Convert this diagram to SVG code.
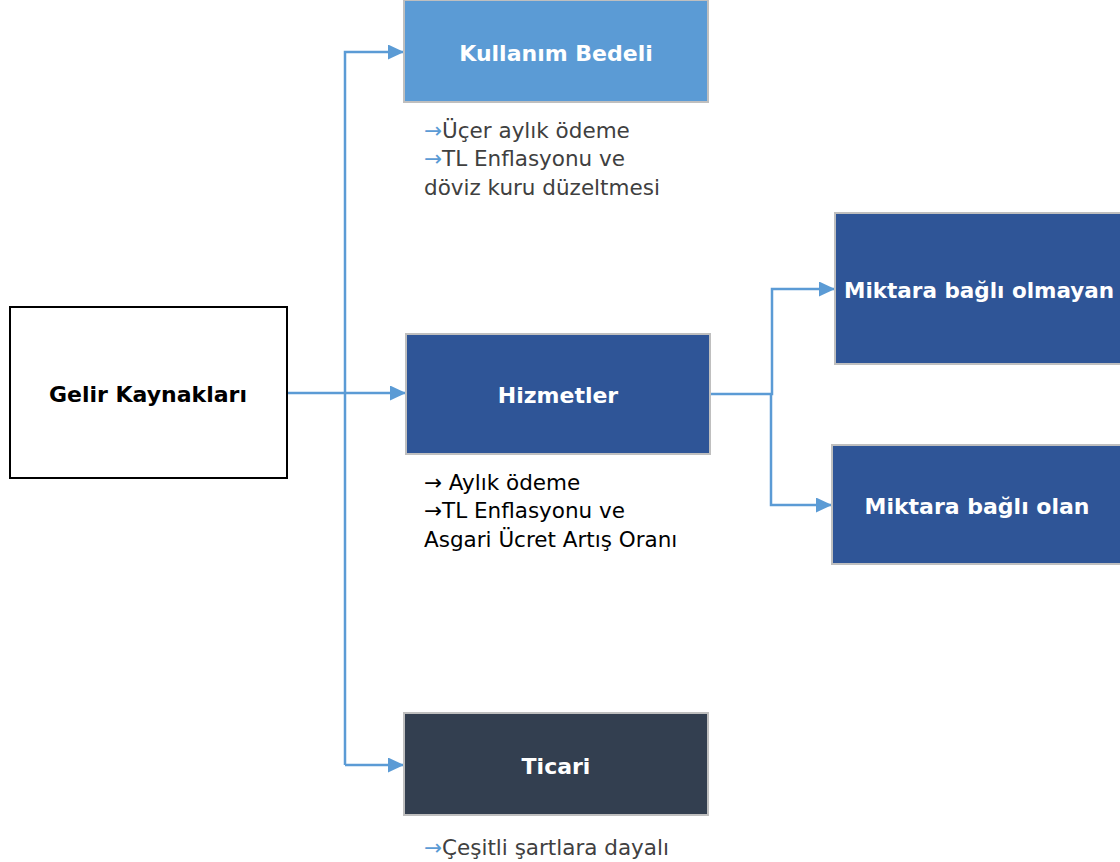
<svg xmlns="http://www.w3.org/2000/svg" width="1120" height="862" viewBox="0 0 1120 862">
<style>
.box{stroke:#BFBFBF;stroke-width:2}
.lbl{font-family:"DejaVu Sans","Liberation Sans",sans-serif;font-weight:bold;font-size:22px;fill:#FFFFFF;text-anchor:middle;dominant-baseline:central}
.note{font-family:"DejaVu Sans","Liberation Sans",sans-serif;font-size:21.5px}
.conn{fill:none;stroke:#5B9BD5;stroke-width:2.5}
</style>
<defs>
<marker id="ah" markerWidth="16" markerHeight="15" refX="15" refY="7.5" orient="auto" markerUnits="userSpaceOnUse">
<path d="M0,0 L16,7.5 L0,15 Z" fill="#5B9BD5"/>
</marker>
</defs>
<rect width="1120" height="862" fill="#FFFFFF"/>
<g id="connectors">
<path class="conn" d="M287,393 L405,393" marker-end="url(#ah)"/>
<path class="conn" d="M345,765 L345,52 L403,52" marker-end="url(#ah)"/>
<path class="conn" d="M345,765 L403,765" marker-end="url(#ah)"/>
<path class="conn" d="M710,394 L772,394 L772,289 L834,289" marker-end="url(#ah)"/>
<path class="conn" d="M771,394 L771,505 L831,505" marker-end="url(#ah)"/>
</g>
<g id="gelir">
<rect x="10" y="307" width="277" height="171" fill="#FFFFFF" stroke="#000000" stroke-width="2"/>
<text class="lbl" x="148" y="394" style="fill:#000000">Gelir Kaynakları</text>
</g>
<g id="kullanim">
<rect class="box" x="404" y="0" width="304" height="102" fill="#5B9BD5"/>
<text class="lbl" x="556" y="53">Kullanım Bedeli</text>
<text class="note" x="424" y="138" fill="#404040"><tspan fill="#5B9BD5">→</tspan>Üçer aylık ödeme</text>
<text class="note" x="424" y="166" fill="#404040"><tspan fill="#5B9BD5">→</tspan>TL Enflasyonu ve</text>
<text class="note" x="424" y="195" fill="#404040">döviz kuru düzeltmesi</text>
</g>
<g id="hizmetler">
<rect class="box" x="406" y="334" width="304" height="120" fill="#2F5597"/>
<text class="lbl" x="558" y="395">Hizmetler</text>
<text class="note" x="424" y="490" fill="#000000">→ Aylık ödeme</text>
<text class="note" x="424" y="518" fill="#000000">→TL Enflasyonu ve</text>
<text class="note" x="424" y="547" fill="#000000">Asgari Ücret Artış Oranı</text>
</g>
<g id="olmayan">
<rect class="box" x="835" y="213" width="300" height="151" fill="#2F5597"/>
<text class="lbl" x="844" y="290" style="text-anchor:start;font-size:21.5px">Miktara bağlı olmayan</text>
</g>
<g id="olan">
<rect class="box" x="832" y="445" width="300" height="119" fill="#2F5597"/>
<text class="lbl" x="977" y="506">Miktara bağlı olan</text>
</g>
<g id="ticari">
<rect class="box" x="404" y="713" width="304" height="102" fill="#333F50"/>
<text class="lbl" x="556" y="766">Ticari</text>
<text class="note" x="424" y="855" fill="#404040"><tspan fill="#5B9BD5">→</tspan>Çeşitli şartlara dayalı</text>
</g>
</svg>
